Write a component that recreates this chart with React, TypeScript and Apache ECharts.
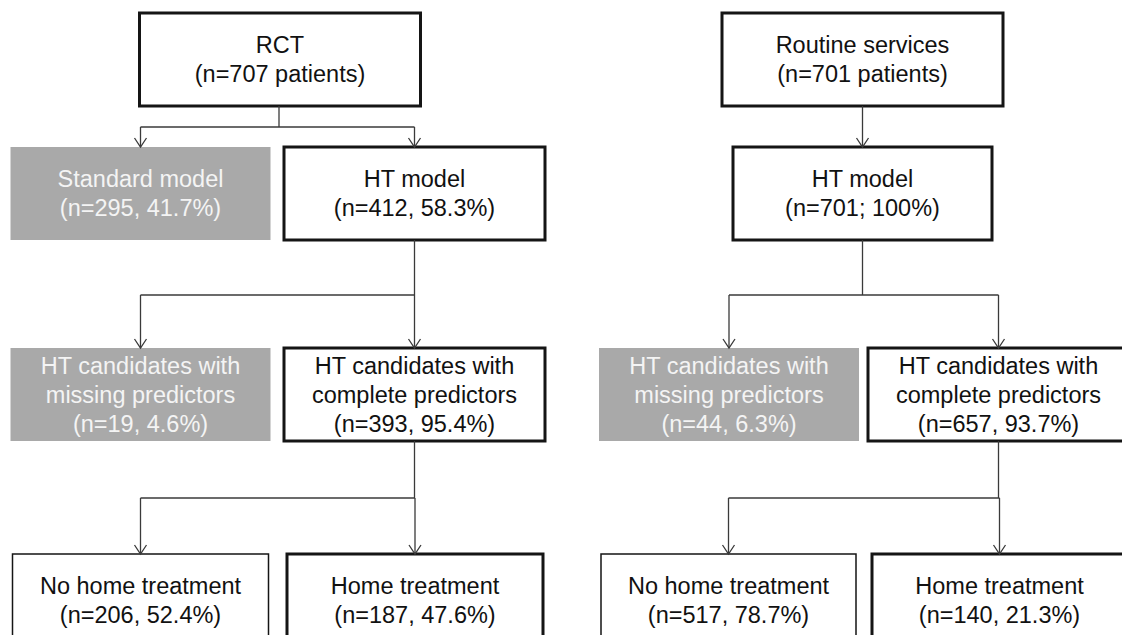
import React, { useEffect, useRef } from "react";
import * as echarts from "echarts";

// ---- Data ----
const leftTitles = [
  "RCT",
  "Standard model",
  "HT model",
  "HT candidates with\nmissing predictors",
  "HT candidates with\ncomplete predictors",
  "No home treatment",
  "Home treatment",
];
const leftCounts = [707, 295, 412, 19, 393, 206, 187];
const leftPercents: (number | null)[] = [null, 41.7, 58.3, 4.6, 95.4, 52.4, 47.6];

const rightTitles = [
  "Routine services",
  "HT model",
  "HT candidates with\nmissing predictors",
  "HT candidates with\ncomplete predictors",
  "No home treatment",
  "Home treatment",
];
const rightCounts = [701, 701, 44, 657, 517, 140];
const rightPercents: (number | null)[] = [null, 100, 6.3, 93.7, 78.7, 21.3];

// ---- Layout (positions / styles) ----
const ROW_TOP = [13, 147, 348, 554];
const BOX_H = 93;
const BUS_Y = [127, 295, 498];

type Kind = "thick" | "thin" | "gray";
interface NodeLayout { cx: number; w: number; row: number; kind: Kind; }

const leftLayout: NodeLayout[] = [
  { cx: 280, w: 281, row: 0, kind: "thick" },
  { cx: 140.5, w: 260, row: 1, kind: "gray" },
  { cx: 414.5, w: 261, row: 1, kind: "thick" },
  { cx: 140.5, w: 260, row: 2, kind: "gray" },
  { cx: 414.5, w: 261, row: 2, kind: "thick" },
  { cx: 140.5, w: 256, row: 3, kind: "thin" },
  { cx: 415, w: 256, row: 3, kind: "thick" },
];
const leftEdges: [number, number[], number?][] = [
  [0, [1, 2], 279],
  [2, [3, 4]],
  [4, [5, 6]],
];

const rightLayout: NodeLayout[] = [
  { cx: 862.5, w: 281, row: 0, kind: "thick" },
  { cx: 862.5, w: 259, row: 1, kind: "thick" },
  { cx: 729, w: 260, row: 2, kind: "gray" },
  { cx: 998.5, w: 261, row: 2, kind: "thick" },
  { cx: 728.5, w: 255, row: 3, kind: "thin" },
  { cx: 999.5, w: 255, row: 3, kind: "thick" },
];
const rightEdges: [number, number[], number?][] = [
  [0, [1]],
  [1, [2, 3]],
  [3, [4, 5]],
];

const FONT = "'Liberation Sans', Arial, 'Helvetica Neue', sans-serif";
const LINE_COLOR = "#3a3a3a";
const BORDER_COLOR = "#151515";
const GRAY_FILL = "#a9a9a9";

function countLabel(n: number, p: number | null): string {
  if (p === null) return `(n=${n} patients)`;
  if (p === 100) return `(n=${n}; 100%)`;
  return `(n=${n}, ${p.toFixed(1)}%)`;
}

function buildPanel(
  titles: string[],
  counts: number[],
  percents: (number | null)[],
  layout: NodeLayout[],
  edges: [number, number[], number?][]
): any[] {
  const els: any[] = [];
  layout.forEach((L, i) => {
    const x = L.cx - L.w / 2;
    const y = ROW_TOP[L.row];
    const isGray = L.kind === "gray";
    els.push({
      type: "rect",
      shape: { x, y, width: L.w, height: BOX_H },
      style: {
        fill: isGray ? GRAY_FILL : "#ffffff",
        stroke: isGray ? null : BORDER_COLOR,
        lineWidth: L.kind === "thick" ? 3 : 1.5,
      },
      z: 1,
    });
    els.push({
      type: "text",
      x: L.cx,
      y: y + BOX_H / 2,
      style: {
        text: titles[i] + "\n" + countLabel(counts[i], percents[i]),
        fill: isGray ? "#f4f4f4" : "#111111",
        fontSize: 23.5,
        fontFamily: FONT,
        lineHeight: 29,
        align: "center",
        verticalAlign: "middle",
      },
      z: 3,
    });
  });

  const lineStyle = { stroke: LINE_COLOR, lineWidth: 1.3, fill: null };
  const arrow = (x: number, yTop: number, yTip: number) => {
    els.push({ type: "line", shape: { x1: x, y1: yTop, x2: x, y2: yTip }, style: lineStyle, z: 2 });
    els.push({
      type: "polyline",
      shape: { points: [[x - 6, yTip - 9], [x, yTip], [x + 6, yTip - 9]] },
      style: lineStyle,
      z: 2,
    });
  };

  edges.forEach(([p, children, startX]) => {
    const P = layout[p];
    const pBottom = ROW_TOP[P.row] + BOX_H;
    const childTop = ROW_TOP[layout[children[0]].row];
    const px = startX ?? P.cx;
    if (children.length === 1) {
      arrow(px, pBottom, childTop);
      return;
    }
    const bus = BUS_Y[P.row];
    els.push({ type: "line", shape: { x1: px, y1: pBottom, x2: px, y2: bus }, style: lineStyle, z: 2 });
    const xs = children.map((c) => layout[c].cx);
    els.push({
      type: "line",
      shape: { x1: Math.min(...xs), y1: bus, x2: Math.max(...xs), y2: bus },
      style: lineStyle,
      z: 2,
    });
    xs.forEach((cx) => arrow(cx, bus, childTop));
  });
  return els;
}

export default function App() {
  const ref = useRef<HTMLDivElement>(null);
  useEffect(() => {
    if (!ref.current) return;
    const chart = echarts.init(ref.current, null, { renderer: "svg" });
    const elements = [
      ...buildPanel(leftTitles, leftCounts, leftPercents, leftLayout, leftEdges),
      ...buildPanel(rightTitles, rightCounts, rightPercents, rightLayout, rightEdges),
    ];
    chart.setOption({
      animation: false,
      backgroundColor: "#ffffff",
      graphic: { elements },
    });
    return () => chart.dispose();
  }, []);
  return (
    <div
      ref={ref}
      style={{ position: "absolute", left: 0, top: 0, width: 1122, height: 635, background: "#fff" }}
    />
  );
}
